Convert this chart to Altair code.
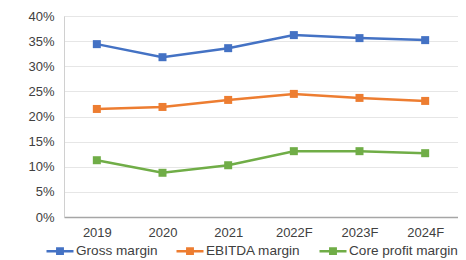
import altair as alt
import pandas as pd

years = ["2019", "2020", "2021", "2022F", "2023F", "2024F"]
series = ["Gross margin", "EBITDA margin", "Core profit margin"]
gross = [0.344, 0.318, 0.336, 0.362, 0.356, 0.352]
ebitda = [0.215, 0.219, 0.233, 0.245, 0.237, 0.231]
core = [0.113, 0.088, 0.103, 0.131, 0.131, 0.127]
colors = ["#4472C4", "#ED7D31", "#70AD47"]

rows = []
for name, vals in zip(series, [gross, ebitda, core]):
    for y, v in zip(years, vals):
        rows.append({"year": y, "series": name, "value": v})
df = pd.DataFrame(rows)

FONT = "Liberation Sans"
TXT = "#404040"

sym = "M-1,0H1M-0.2,-0.2H0.2V0.2H-0.2Z"
legend = alt.Legend(
    title=None, orient="none", direction="horizontal",
    legendX=-19, legendY=220, padding=0,
    symbolType=sym, symbolSize=729, symbolStrokeWidth=2.5,
    labelFont=FONT, labelFontSize=13.6, labelColor=TXT, labelOffset=1,
    columnPadding=13, symbolOpacity=1,
)

color = alt.Color("series:N", scale=alt.Scale(domain=series, range=colors), legend=legend, sort=series)
x = alt.X("year:N", sort=years, scale=alt.Scale(type="point", padding=0.5),
          axis=alt.Axis(title=None, labelAngle=0, ticks=False, domain=True, domainColor="#a6a6a6",
                        domainWidth=1.5, labelPadding=9, labelFont=FONT, labelFontSize=13, labelColor=TXT, grid=False))
y = alt.Y("value:Q", scale=alt.Scale(domain=[0, 0.4], nice=False),
          axis=alt.Axis(title=None, format=".0%", values=[0, 0.05, 0.1, 0.15, 0.2, 0.25, 0.3, 0.35, 0.4],
                        ticks=False, domain=True, domainColor="#d0d0d0", labelPadding=10, labelFont=FONT,
                        labelFontSize=13, labelColor=TXT, grid=True, gridColor="#e6e6e6"))

base = alt.Chart(df)
lines = base.mark_line(strokeWidth=2.5).encode(x=x, y=y, color=color, detail="series:N")
pts = base.mark_point(shape="square", size=64, filled=True, opacity=1).encode(x=x, y=y, color=color)

chart = (lines + pts).properties(
    width=394, height=201,
    autosize=alt.AutoSizeParams(type="none"),
    padding={"left": 56, "top": 8, "right": 0, "bottom": 43},
).configure_view(stroke=None).configure(background="white")

chart.save("out.html", embed_options={"renderer": "svg", "actions": False})
